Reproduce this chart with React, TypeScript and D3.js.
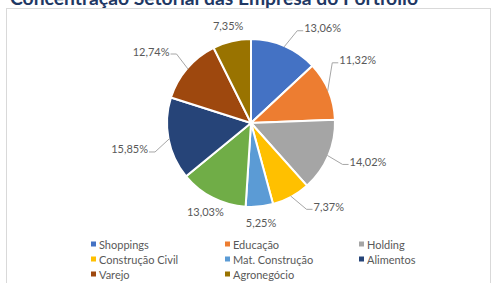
import React from "react";
import * as d3 from "d3";

const title = "Concentração Setorial das Empresa do Portfólio";

const categories = [
  "Shoppings",
  "Educação",
  "Holding",
  "Construção Civil",
  "Mat. Construção",
  "Outros",
  "Alimentos",
  "Varejo",
  "Agronegócio",
];
const values = [13.06, 11.32, 14.02, 7.37, 5.25, 13.03, 15.85, 12.74, 7.35];
const labels = ["13,06%", "11,32%", "14,02%", "7,37%", "5,25%", "13,03%", "15,85%", "12,74%", "7,35%"];
const legendItems = [
  "Shoppings",
  "Educação",
  "Holding",
  "Construção Civil",
  "Mat. Construção",
  "Alimentos",
  "Varejo",
  "Agronegócio",
];

const colors = ["#4472C4", "#ED7D31", "#A5A5A5", "#FFC000", "#5B9BD5", "#70AD47", "#264478", "#9E480E", "#997300"];
// label placement tweaks (degrees off the slice middle), and which get leader lines
const labelShift = [6, -12, 0, -7, 0, 3, -5, 0, 0];
const hasLeader = [true, true, true, true, false, false, true, true, false];

const W = 491;
const H = 283;
const cx = 251;
const cy = 123;
const R = 84;
const font = "Lato, 'Open Sans', sans-serif";
const textColor = "#595959";

export default function App() {
  const color = d3.scaleOrdinal<string, string>().domain(categories).range(colors);
  const pie = d3
    .pie<number>()
    .sort(null)
    .value((d) => d)
    .startAngle(0)
    .endAngle(2 * Math.PI);
  const arcs = pie(values);
  const arc = d3.arc<d3.PieArcDatum<number>>().innerRadius(0).outerRadius(R);

  const polar = (a: number, r: number) => [cx + r * Math.sin(a), cy - r * Math.cos(a)];

  const legendX = d3.scalePoint<number>().domain([0, 1, 2]).range([91, 359]);
  const legendY = d3.scalePoint<number>().domain([0, 1, 2]).range([244, 274]);

  return (
    <svg width={W} height={H} style={{ position: "absolute", left: 0, top: 0 }} fontFamily={font}>
      <rect width={W} height={H} fill="#fff" />
      <text x={10} y={4.5} fontSize={19} fontWeight={700} fill="#1F3864" textLength={408} lengthAdjust="spacingAndGlyphs">
        {title}
      </text>
      <rect x={6.5} y={8.5} width={484} height={300} fill="none" stroke="#D9D9D9" />

      <g>
        {arcs.map((a, i) => (
          <path key={i} d={arc(a) || ""} transform={`translate(${cx},${cy})`} fill={color(categories[i])} stroke="#fff" strokeWidth={2} />
        ))}
      </g>

      <g fontSize={11} fill={textColor}>
        {arcs.map((a, i) => {
          const mid = (a.startAngle + a.endAngle) / 2;
          if (!hasLeader[i]) {
            const [x, y] = polar(mid, 100);
            return (
              <text key={i} x={x} y={y} textAnchor="middle" dominantBaseline="central">
                {labels[i]}
              </text>
            );
          }
          const la = mid + (labelShift[i] * Math.PI) / 180;
          const [ax, ay] = polar(la, 106);
          const right = ax > cx;
          const [sx, sy] = polar(mid, R - 1);
          const ex = right ? ax - 6 : ax + 6;
          return (
            <g key={i}>
              <polyline points={`${sx},${sy} ${ex},${ay} ${ax},${ay}`} fill="none" stroke="#A6A6A6" strokeWidth={1} />
              <text x={right ? ax + 1 : ax - 1} y={ay - 3} textAnchor={right ? "start" : "end"} dominantBaseline="central">
                {labels[i]}
              </text>
            </g>
          );
        })}
      </g>

      <g fontSize={11} fill={textColor}>
        {legendItems.map((name, i) => {
          const x = legendX(i % 3) ?? 0;
          const y = legendY(Math.floor(i / 3)) ?? 0;
          return (
            <g key={name}>
              <rect x={x} y={y - 2.5} width={5} height={5} fill={color(name)} />
              <text x={x + 8} y={y} dominantBaseline="central">
                {name}
              </text>
            </g>
          );
        })}
      </g>
    </svg>
  );
}
